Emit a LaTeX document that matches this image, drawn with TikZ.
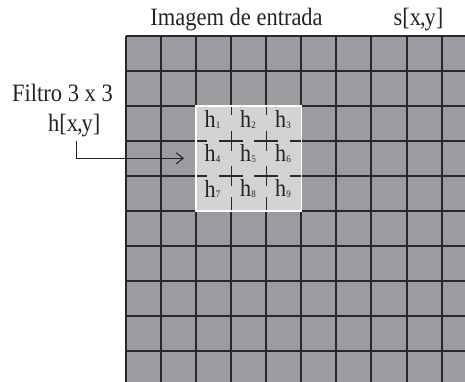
\documentclass[tikz,border=0pt]{standalone}
\usepackage{fontspec}
\setmainfont{Liberation Serif}
\newfontfamily\narrowserif[FakeStretch=0.9]{Liberation Serif}
\usetikzlibrary{arrows.meta}
\definecolor{cellgray}{RGB}{155,155,160}
\definecolor{gridline}{RGB}{40,40,42}
\definecolor{boxfill}{RGB}{211,211,212}
\definecolor{txt}{RGB}{35,35,35}
\tikzset{
  lbl/.style={inner sep=0pt, text=txt, font=\narrowserif\fontsize{25}{28}\selectfont},
  hl/.style={inner sep=0pt, text=txt, font=\narrowserif\fontsize{24.5}{28}\selectfont},
  gridl/.style={draw=gridline, line width=2pt},
  inner/.style={draw=gridline, line width=1.4pt},
  conn/.style={draw=txt, line width=1pt, -{Straight Barb[length=7pt,width=11pt,line width=1pt]}}
}
\newcommand{\hsub}[1]{h\kern0.3pt\raisebox{-1pt}{\fontsize{10}{10}\selectfont #1}}
\begin{document}
\begin{tikzpicture}[x=1pt,y=-1pt]
\useasboundingbox (0,0) rectangle (465,382);
\begin{scope}
\clip (0,0) rectangle (465,382);
\fill[cellgray] (126,36) rectangle (470,390);
\foreach \k in {0,...,9} {
  \draw[gridl] ({126+35.07*\k},36) -- ({126+35.07*\k},390);
}
\foreach \k in {0,...,9} {
  \draw[gridl] (126,{36+35*\k}) -- (470,{36+35*\k});
}
\end{scope}
% filter box
\filldraw[fill=boxfill, draw=white, line width=1.5pt] (196.14,106) rectangle (301.35,211);
% crosses
\foreach \xx in {231.21,266.28} {
  \foreach \yy in {141,176} {
    \draw[inner] (\xx-12,\yy) -- (\xx+12,\yy);
    \draw[inner] (\xx,\yy-10) -- (\xx,\yy+10);
  }
  \draw[inner] (\xx,106.8) -- (\xx,115);
  \draw[inner] (\xx,197) -- (\xx,210.2);
}
\foreach \yy in {141,176} {
  \draw[inner] (196.9,\yy) -- (207,\yy);
  \draw[inner] (290,\yy) -- (300.6,\yy);
}
% labels inside
\node[hl] (h1) at (212.5,120) {\hsub{1}};
\node[hl] (h2) at (248,120) {\hsub{2}};
\node[hl] (h3) at (283,120) {\hsub{3}};
\node[hl] (h4) at (212.5,154) {\hsub{4}};
\node[hl] (h5) at (248,154) {\hsub{5}};
\node[hl] (h6) at (283,154) {\hsub{6}};
\node[hl] (h7) at (212.5,189) {\hsub{7}};
\node[hl] (h8) at (248,189) {\hsub{8}};
\node[hl] (h9) at (283,189) {\hsub{9}};
% titles
\node[lbl, anchor=base] (title) at (236.5,26) {Imagem de entrada};
\node[lbl, anchor=base] (sxy) at (418.5,26) {s[x\kern-1pt,\kern-1pt y]};
\node[lbl, anchor=base] (filtro) at (62.5,101.7) {Filtro 3 x 3};
\node[lbl, anchor=base] (hxy) at (74.2,131.7) {h[x\kern-1pt,\kern-1pt y]};
% connector
\coordinate (arrowend) at (184,158.3);
\draw[conn] ([xshift=2.5pt,yshift=-4pt]hxy.south) |- (arrowend);
\end{tikzpicture}
\end{document}
